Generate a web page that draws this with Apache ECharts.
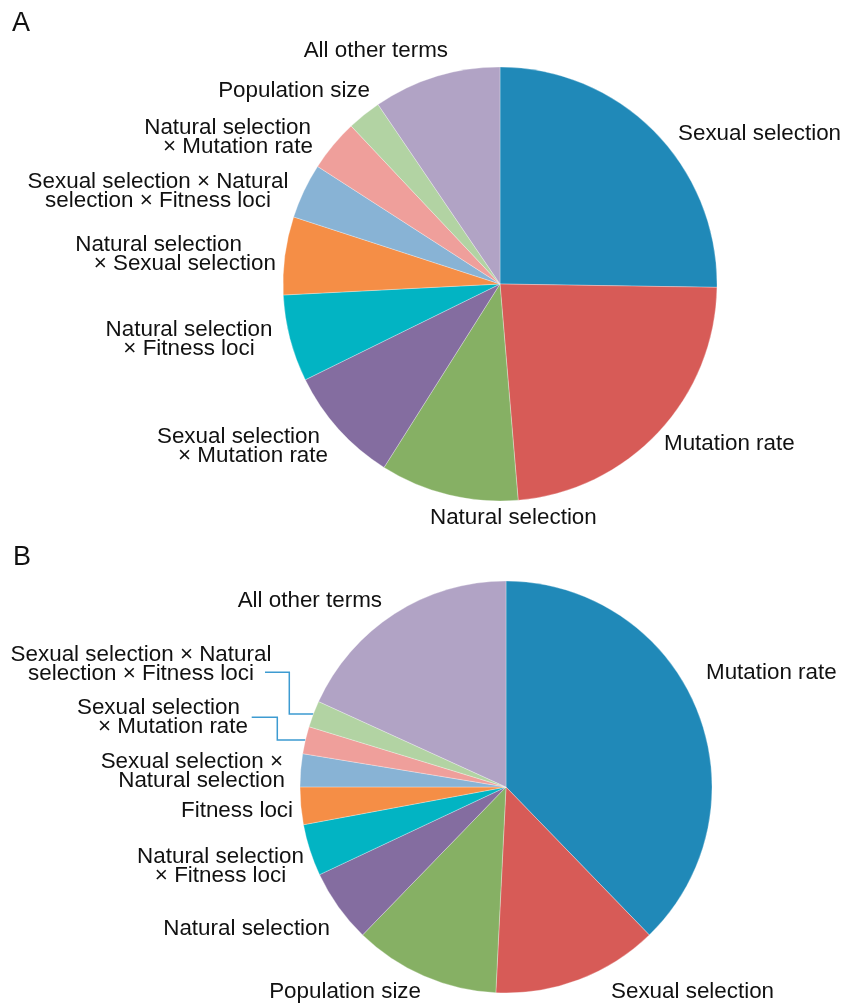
<!DOCTYPE html>
<html>
<head>
<meta charset="utf-8">
<script src="https://cdn.jsdelivr.net/npm/echarts@6/dist/echarts.min.js"></script>
<style>
  html, body { margin: 0; padding: 0; background: #fff; }
  #chart { width: 842px; height: 1003px; }
</style>
</head>
<body>
<div id="chart"></div>
<script>
// Panel A: share of variance attributed to each model term
const termsA = [
  'Sexual selection',
  'Mutation rate',
  'Natural selection',
  'Sexual selection\n× Mutation rate',
  'Natural selection\n× Fitness loci',
  'Natural selection\n× Sexual selection',
  'Sexual selection × Natural\nselection × Fitness loci',
  'Natural selection\n× Mutation rate',
  'Population size',
  'All other terms'
];
const sharesA = [25.25, 23.42, 10.31, 8.75, 6.47, 5.81, 4.11, 3.86, 2.53, 9.5];

// Panel B
const termsB = [
  'Mutation rate',
  'Sexual selection',
  'Population size',
  'Natural selection',
  'Natural selection\n× Fitness loci',
  'Fitness loci',
  'Sexual selection ×\nNatural selection',
  'Sexual selection\n× Mutation rate',
  'Sexual selection × Natural\nselection × Fitness loci',
  'All other terms'
];
const sharesB = [37.75, 13.03, 11.47, 5.75, 4.06, 2.94, 2.58, 2.14, 2.08, 18.19];

const palette = ['#2089b8', '#d75b57', '#86b064', '#846da0', '#02b4c3',
                 '#f58e46', '#88b3d5', '#ef9f9b', '#b2d3a3', '#b1a3c5'];

const FONT = '"Liberation Sans", Arial, Helvetica, sans-serif';
const FONT_SIZE = 22.4;
const LINE_H = 19;

// Where each label sits: anchor point, alignment, extra right padding of the first line,
// and for the two crowded slices of B an elbow leader line.
const labelPlaceA = [
  { x: 678, y: 133.5, align: 'left' },
  { x: 664, y: 444, align: 'left' },
  { x: 430, y: 517.5, align: 'left' },
  { x: 328, y: 446, align: 'right', pad: 8 },
  { x: 189, y: 339, align: 'center' },
  { x: 276, y: 254, align: 'right', pad: 34 },
  { x: 158, y: 191, align: 'center' },
  { x: 313, y: 137.5, align: 'right', pad: 2 },
  { x: 370, y: 91, align: 'right' },
  { x: 448, y: 50.5, align: 'right' }
];
const labelPlaceB = [
  { x: 706, y: 673, align: 'left' },
  { x: 611, y: 992, align: 'left' },
  { x: 421, y: 992, align: 'right' },
  { x: 330, y: 929, align: 'right' },
  { x: 220.5, y: 866.7, align: 'center' },
  { x: 293, y: 811, align: 'right' },
  { x: 285, y: 771.7, align: 'right', pad: 2 },
  { x: 248, y: 717.8, align: 'right', pad: 8, leader: { from: [251.7, 717.3], elbowX: 277.3 } },
  { x: 141, y: 664.8, align: 'center', leader: { from: [265, 672.3], elbowX: 289.3 } },
  { x: 382, y: 601, align: 'right' }
];

const LEADER_COLOR = '#3d9bd1';

function tokenStyle(extra) {
  return Object.assign({
    fontSize: FONT_SIZE, fontFamily: FONT, color: '#111', lineHeight: LINE_H
  }, extra || {});
}

function buildData(terms, shares, places) {
  return terms.map(function (name, i) {
    const p = places[i];
    const item = {
      name: name,
      value: shares[i],
      itemStyle: { color: palette[i] },
      label: {
        align: p.align,
        rich: {
          l0: tokenStyle(p.pad ? { padding: [0, p.pad, 0, 0] } : null),
          l1: tokenStyle()
        }
      }
    };
    if (p.leader) {
      item.labelLine = { show: true, lineStyle: { color: LEADER_COLOR, width: 1.5 } };
    }
    return item;
  });
}

function labelText(params) {
  return params.name.split('\n').map(function (line, i) {
    return '{l' + i + '|' + line + '}';
  }).join('\n');
}

function placer(places) {
  return function (params) {
    const p = places[params.dataIndex];
    const out = { x: p.x, y: p.y, align: p.align, verticalAlign: 'middle' };
    if (p.leader && params.labelLinePoints) {
      const edge = params.labelLinePoints[0];
      out.labelLinePoints = [
        [edge[0], edge[1]],
        [p.leader.elbowX, edge[1]],
        [p.leader.elbowX, p.leader.from[1]],
        [p.leader.from[0], p.leader.from[1]]
      ];
    }
    return out;
  };
}

function pieSeries(center, radius, terms, shares, places) {
  return {
    type: 'pie',
    center: center,
    radius: radius,
    startAngle: 90,
    clockwise: true,
    avoidLabelOverlap: false,
    animation: false,
    emphasis: { disabled: true },
    itemStyle: { borderColor: '#ffffff', borderWidth: 0.3 },
    label: {
      show: true,
      position: 'outside',
      formatter: labelText,
      fontSize: FONT_SIZE,
      fontFamily: FONT,
      color: '#111',
      lineHeight: LINE_H
    },
    labelLine: { show: false },
    labelLayout: placer(places),
    data: buildData(terms, shares, places)
  };
}

const chart = echarts.init(document.getElementById('chart'), null, { renderer: 'canvas' });
chart.setOption({
  backgroundColor: '#ffffff',
  animation: false,
  graphic: [
    { type: 'text', x: 12, y: 24, style: { text: 'A', fontSize: 27, fontFamily: FONT, fill: '#111', verticalAlign: 'middle' } },
    { type: 'text', x: 13, y: 558, style: { text: 'B', fontSize: 27, fontFamily: FONT, fill: '#111', verticalAlign: 'middle' } }
  ],
  series: [
    pieSeries([500, 284], 217, termsA, sharesA, labelPlaceA),
    pieSeries([506, 787], 206, termsB, sharesB, labelPlaceB)
  ]
});
</script>
</body>
</html>
